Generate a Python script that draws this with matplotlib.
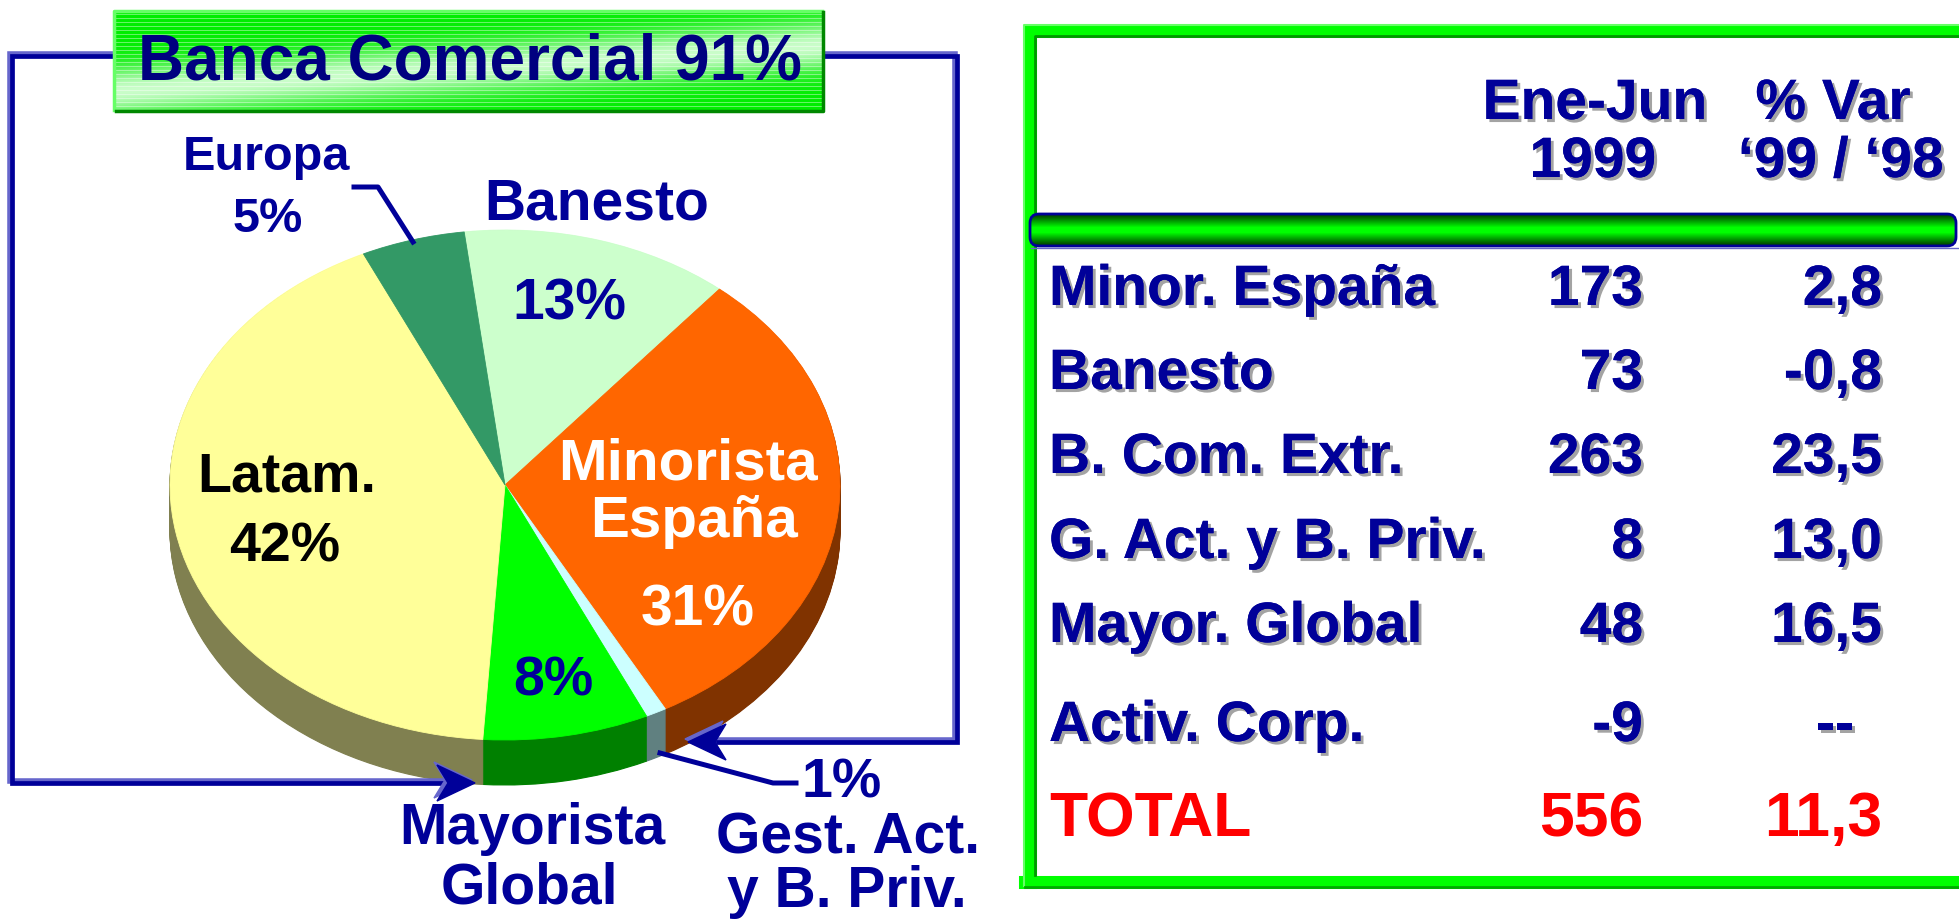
import numpy as np
import matplotlib.pyplot as plt
from matplotlib.patches import Polygon, FancyBboxPatch
import matplotlib.patheffects as pe

plt.rcParams['font.family'] = ['Liberation Sans', 'DejaVu Sans']
plt.rcParams['font.weight'] = 'bold'

# pie segments, clockwise from the top
seg_names = ['Banesto', 'Minorista España', 'Gest. Act. y B. Priv.',
             'Mayorista Global', 'Latam.', 'Europa']
seg_share = [13, 31, 1, 8, 42, 5]
top_colors = ['#CCFFCC', '#FF6600', '#CCFFFF', '#00FF00', '#FFFF99', '#339966']
side_colors = ['#88BB88', '#803300', '#608080', '#008000', '#808050', '#1F6040']

# table
row_labels = ['Minor. España', 'Banesto', 'B. Com. Extr.', 'G. Act. y B. Priv.',
              'Mayor. Global', 'Activ. Corp.', 'TOTAL']
ene_jun_1999 = [173, 73, 263, 8, 48, -9, 556]
var_99_98 = [2.8, -0.8, 23.5, 13.0, 16.5, None, 11.3]

NAVY = '#000099'
LAV = '#6666CC'

W, H = 1959, 923
fig = plt.figure(figsize=(W / 100, H / 100), dpi=100)

# ---- pie (elliptic, with a depth made from stacked darker pies) ----
px0, px1, ptop, pbot = 170, 840, 230, 785
ry = 255.0
depth = 45 / ry
pax = fig.add_axes([px0 / W, (H - pbot) / H, (px1 - px0) / W, (pbot - ptop) / H])
for off in np.linspace(depth, 0.0, 46)[:-1]:
    wedges, _ = pax.pie(seg_share, colors=side_colors, startangle=97,
                        counterclock=False, center=(0, -off),
                        wedgeprops={'linewidth': 0.8})
    for w, c in zip(wedges, side_colors):
        w.set_edgecolor(c)
wedges, _ = pax.pie(seg_share, colors=top_colors, startangle=97,
                    counterclock=False, wedgeprops={'linewidth': 0.6})
for w, c in zip(wedges, top_colors):
    w.set_edgecolor(c)
pax.set_aspect('auto')
pax.set_xlim(-1, 1)
pax.set_ylim(-1 - depth, 1)
pax.axis('off')

# ---- overlay in pixel coordinates ----
ax = fig.add_axes([0, 0, 1, 1])
ax.patch.set_visible(False)
ax.axis('off')

# title box
yy, xx = np.mgrid[0:1:102j, 0:1:710j]
d = yy - (0.80 - 0.45 * xx)
wgt = np.exp(-(d / 0.24) ** 2) * 0.9
green = np.array([0.0, 0.93, 0.0])
pale = np.array([0.88, 1.0, 0.88])
img = green * (1 - wgt[..., None]) + pale * wgt[..., None]
img[::4] = img[::4] * 0.6 + 0.4
ax.imshow(img, extent=(114, 824, 112, 10), aspect='auto', zorder=2)
ax.plot([114, 114, 822], [110, 11, 11], color='#66FF66', lw=2.5, zorder=3)
ax.plot([116, 823, 823], [111, 111, 12], color='#008800', lw=2.5, zorder=3)
ax.text(470, 63, 'Banca Comercial 91%', color='#000080', fontsize=46,
        ha='center', va='center', zorder=4)

# blue frame around the pie
frame_l = [(114, 56), (12, 56), (12, 783), (445, 783)]
frame_r = [(824, 56), (957, 56), (957, 742), (718, 742)]
for pts in (frame_l, frame_r):
    xs, ys = zip(*pts)
    ax.plot(np.array(xs) - 2, np.array(ys) - 2, color=LAV, lw=4,
            solid_joinstyle='miter', zorder=1)
    ax.plot(xs, ys, color=NAVY, lw=3.4, solid_joinstyle='miter', zorder=1)
heads = [[(475, 783), (437, 765), (448, 783), (437, 801)],
         [(688, 742), (726, 724), (715, 742), (726, 760)]]
for hd in heads:
    sh = [(x - 3, y - 3) for x, y in hd]
    ax.add_patch(Polygon(sh, closed=True, color=LAV, zorder=1))
    ax.add_patch(Polygon(hd, closed=True, color=NAVY, zorder=1))

# leader lines
ax.plot([354, 378, 413], [187, 187, 242], color=NAVY, lw=3.6, zorder=3)
ax.plot([660, 773, 796], [753, 783, 783], color=NAVY, lw=3.6, zorder=3)

# pie labels
lab = dict(ha='center', va='center', zorder=4)
ax.text(266, 157, 'Europa', color=NAVY, fontsize=35, **lab)
ax.text(268, 219, '5%', color=NAVY, fontsize=35, **lab)
ax.text(597, 204, 'Banesto', color=NAVY, fontsize=41, **lab)
ax.text(569, 304, '13%', color=NAVY, fontsize=41, **lab)
ax.text(688, 465, 'Minorista', color='white', fontsize=42, **lab)
ax.text(694, 522, 'España', color='white', fontsize=42, **lab)
ax.text(698, 611, '31%', color='white', fontsize=41, **lab)
ax.text(287, 477, 'Latam.', color='black', fontsize=40, **lab)
ax.text(285, 548, '42%', color='black', fontsize=40, **lab)
ax.text(553, 681, '8%', color=NAVY, fontsize=40, **lab)
ax.text(532, 829, 'Mayorista', color=NAVY, fontsize=41, **lab)
ax.text(529, 889, 'Global', color=NAVY, fontsize=41, **lab)
ax.text(842, 784, '1%', color=NAVY, fontsize=40, **lab)
ax.text(848, 838, 'Gest. Act.', color=NAVY, fontsize=41, **lab)
ax.text(847, 892, 'y B. Priv.', color=NAVY, fontsize=41, **lab)

# table frame
ax.plot([1029.5, 1029.5, 2100], [881.5, 30.5, 30.5], color='#00FF00', lw=9.4,
        solid_joinstyle='miter', zorder=1)
ax.plot([1025, 2100], [881.5, 881.5], color='#00FF00', lw=9.4, zorder=1)
ax.plot([1024, 1024, 2100], [886, 25, 25], color='#66FF66', lw=1.5, zorder=1)
ax.plot([1035, 1035, 2100], [875, 36, 36], color='#009900', lw=2, zorder=1)
ax.plot([1025, 2100], [887, 887], color='#00AA00', lw=2, zorder=1)

# green tube separator
tube_cols = np.array([
    [0.0, 0.27, 0.0], [0.0, 0.40, 0.0], [0.0, 0.55, 0.0], [0.0, 0.70, 0.0],
    [0.0, 0.85, 0.0], [0.0, 1.0, 0.0], [0.0, 1.0, 0.0], [0.0, 1.0, 0.0],
    [0.0, 0.85, 0.0], [0.0, 0.70, 0.0], [0.0, 0.55, 0.0], [0.0, 0.40, 0.0],
    [0.0, 0.27, 0.0]])
tube = FancyBboxPatch((1030, 214), 926, 32, boxstyle='round,pad=0,rounding_size=9',
                      facecolor='none', edgecolor=NAVY, lw=2, zorder=3)
ax.add_patch(tube)
im = ax.imshow(tube_cols[:, None, :], extent=(1030, 1956, 246, 214),
               aspect='auto', interpolation='bilinear', zorder=2)
im.set_clip_path(tube)
ax.plot([1031, 1970], [247.5, 247.5], color=LAV, lw=1, zorder=3)

# table text
shadow = [pe.withSimplePatchShadow(offset=(2.2, -2.2), shadow_rgbFace='#999999',
                                   alpha=0.9), pe.Normal()]
hdr = dict(color=NAVY, fontsize=41, ha='center', va='center', path_effects=shadow)
ax.text(1595, 104, 'Ene-Jun', **hdr)
ax.text(1593, 162, '1999', **hdr)
ax.text(1833, 104, '% Var', **hdr)
ax.text(1841, 162, '‘99 / ‘98', **hdr)

row_y = [290, 374, 458, 543, 627, 726, 820]
for i, (lbl, v1, v2) in enumerate(zip(row_labels, ene_jun_1999, var_99_98)):
    total = lbl == 'TOTAL'
    col = '#FF0000' if total else NAVY
    fs = 45 if total else 41
    eff = None if total else shadow
    ax.text(1049, row_y[i], lbl, color=col, fontsize=fs, ha='left',
            va='center', path_effects=eff)
    ax.text(1643, row_y[i], f'{v1}', color=col, fontsize=fs, ha='right',
            va='center', path_effects=eff)
    if v2 is None:
        ax.text(1835, row_y[i], '--', color=col, fontsize=fs, ha='center',
                va='center', path_effects=eff)
    else:
        ax.text(1882, row_y[i], f'{v2:.1f}'.replace('.', ','), color=col,
                fontsize=fs, ha='right', va='center', path_effects=eff)

ax.set_xlim(0, W)
ax.set_ylim(H, 0)

fig.savefig('out.png', dpi=100)
